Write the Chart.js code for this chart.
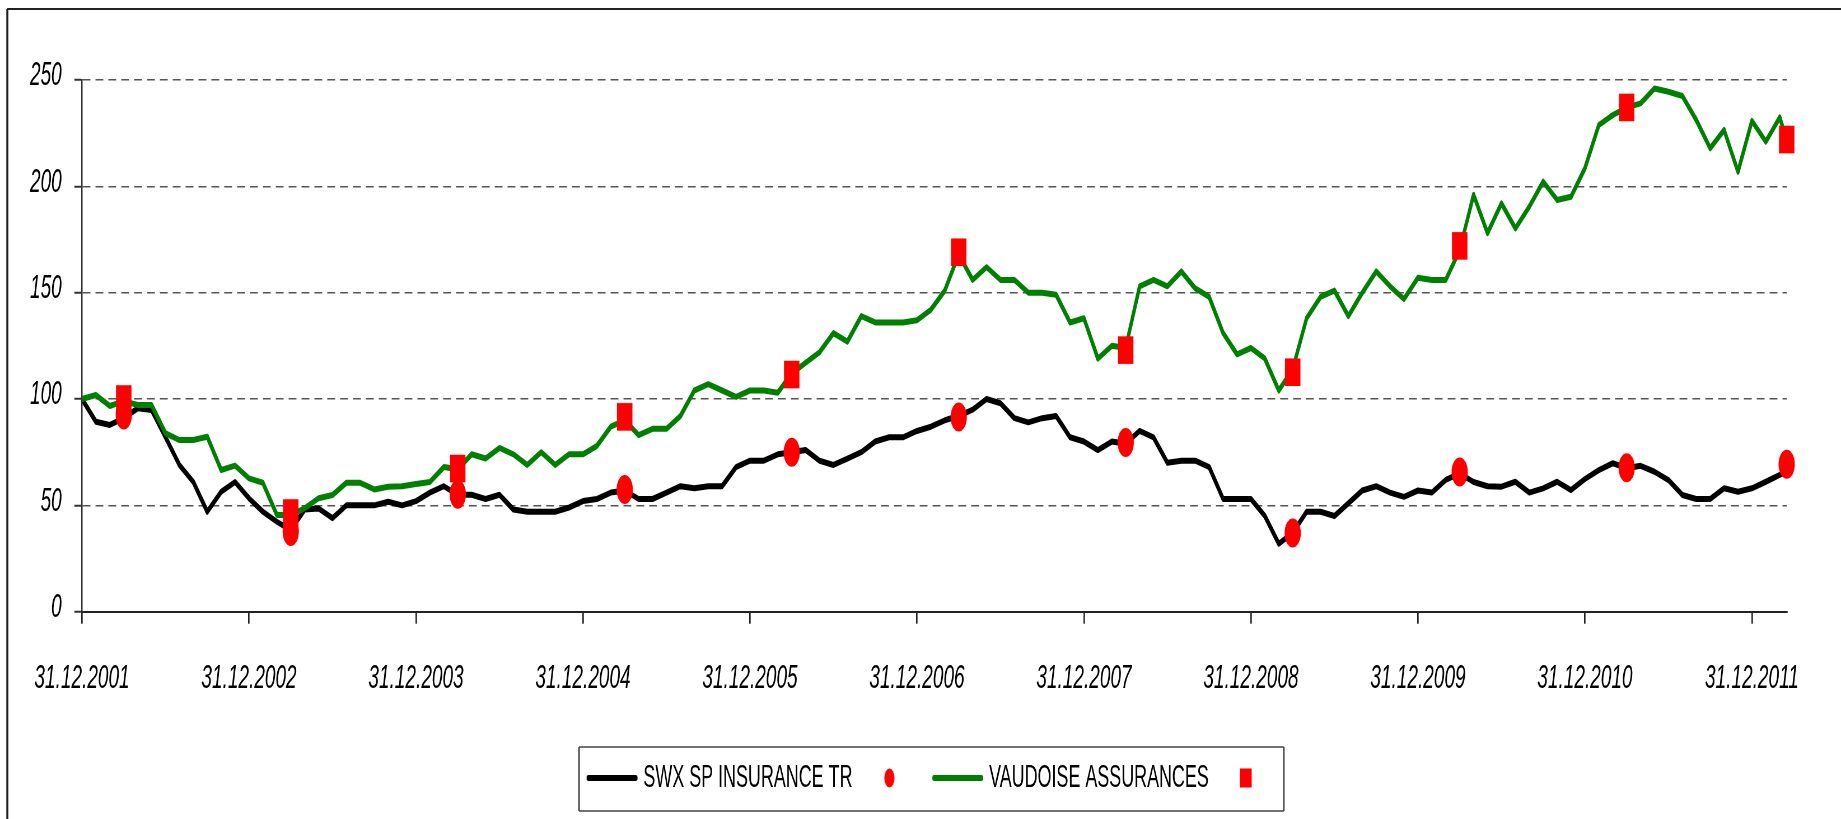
<!DOCTYPE html>
<html>
<head>
<meta charset="utf-8">
<script src="https://cdn.jsdelivr.net/npm/chart.js@4"></script>
<style>
html, body { margin: 0; padding: 0; background: #fff; overflow: hidden; }
/* the original chart is squeezed horizontally: draw wide, then squash */
#wrap { position: absolute; left: 0; top: 0; width: 3288px; height: 819px; transform: scaleX(0.559915); transform-origin: 0 0; }
</style>
</head>
<body>
<div id="wrap"><canvas id="myChart"></canvas></div>
<script>
(function() {
const SQUASH = 1841 / 3288;
const px = v => v / SQUASH;   // final horizontal pixels -> drawing pixels

const yearLabels = ['31.12.2001', '31.12.2002', '31.12.2003', '31.12.2004', '31.12.2005', '31.12.2006',
    '31.12.2007', '31.12.2008', '31.12.2009', '31.12.2010', '31.12.2011'];

// month-end values from 31.12.2001, the last one is mid-month
const lastMonth = 122.5;

const swxValues = [
    100, 89.3, 87.8, 91, 95.6, 94.8, 82, 69, 61, 47, 56.4, 61,
    53.3, 47, 42.3, 38.4, 48, 48.5, 44, 50, 50, 50, 51.7, 50,
    52, 56, 59, 55, 55, 53, 55, 48, 47, 47, 47, 49,
    52, 53, 56, 57, 53, 53, 56, 59, 58, 59, 59, 68,
    71, 71, 74, 75, 76, 71, 69, 72, 75, 80, 82, 82,
    85, 87, 90, 92, 95, 100, 98, 91, 89, 91, 92, 82,
    80, 76, 80, 79, 85, 82, 70, 71, 71, 68, 53, 53,
    53, 45, 32, 37, 47, 47, 45, 51, 57, 59, 56, 54,
    57, 56, 62, 65, 61, 59, 58.8, 61.1, 56, 58, 61.1, 57.2,
    62.4, 66.6, 69.8, 67.5, 68.6, 65.8, 61.9, 54.9, 53, 53, 58, 56.4,
    58, 61.1, 64.3, 66
];

const vaudoiseValues = [
    100, 101.9, 96.7, 99, 97.2, 97.2, 83.9, 80.7, 80.7, 82.3, 66.6, 68.7,
    62.7, 60.6, 45.5, 45.5, 48.6, 53.3, 54.9, 60.6, 60.6, 57.5, 58.8, 59,
    60, 61, 68, 67, 74, 72, 77, 74, 69, 75, 69, 74,
    74, 78, 87, 90, 83, 86, 86, 92, 104, 107, 104, 101,
    104, 104, 103, 112, 117, 122, 131, 127, 139, 136, 136, 136,
    137, 142, 151, 168, 156, 162, 156, 156, 150, 150, 149, 136,
    138, 119, 125, 124, 153, 156, 153, 160, 152, 148, 131, 121,
    124, 119, 104, 114, 138, 148, 151, 139, 150, 160, 153, 147,
    157, 156, 156, 170, 196, 178, 192, 180.2, 190.4, 202.2, 193.6, 195.1,
    208.5, 228.8, 233.5, 237, 239, 246, 244.5, 242.5, 231.2, 217.9, 226.5, 206.9,
    230.8, 221, 232.4, 222
];

const markerMonths = [3, 15, 27, 39, 51, 63, 75, 87, 99, 111, 122.5];
const swxMarkers = [92.5, 37.7, 55.2, 57.4, 75, 91.6, 79.5, 37, 65.7, 67.7, 69.3];
const vaudoiseMarkers = [100, 46.4, 67.3, 91.6, 111.5, 169, 123, 112.6, 172, 237.1, 222];

const RED = '#ff0000';
const GREEN = '#008000';

function toPoints(values) {
    return values.map((v, i) => ({x: i < values.length - 1 ? i : lastMonth, y: v}));
}

function markerPoints(values) {
    return values.map((v, i) => ({x: markerMonths[i], y: v}));
}

function makeIcon(w, h, draw) {
    const c = document.createElement('canvas');
    c.width = w;
    c.height = h;
    draw(c.getContext('2d'));
    return c;
}

const lineIcon = color => makeIcon(93, 10, ctx => {
    ctx.strokeStyle = color;
    ctx.lineWidth = 6;
    ctx.lineCap = 'round';
    ctx.beginPath();
    ctx.moveTo(4, 5);
    ctx.lineTo(89, 5);
    ctx.stroke();
});
const dotIcon = makeIcon(20, 20, ctx => {
    ctx.fillStyle = RED;
    ctx.beginPath();
    ctx.ellipse(10, 10, 9, 9.5, 0, 0, 2 * Math.PI);
    ctx.fill();
});
const boxIcon = makeIcon(22, 20, ctx => {
    ctx.fillStyle = RED;
    ctx.fillRect(0.5, 0.5, 21, 19);
});

const framePlugin = {
    id: 'frame',
    afterDraw(chart) {
        const ctx = chart.ctx;
        ctx.save();
        ctx.strokeStyle = '#222';
        ctx.lineWidth = 2;
        ctx.beginPath();
        ctx.moveTo(px(7.3), 9);
        ctx.lineTo(chart.width, 9);
        ctx.stroke();
        ctx.lineWidth = px(2);
        ctx.beginPath();
        ctx.moveTo(px(7.3), 9);
        ctx.lineTo(px(7.3), chart.height);
        ctx.stroke();

        // box round the legend
        const hb = chart.legend.legendHitBoxes;
        const first = hb[0], last = hb[hb.length - 1];
        const cy = first.top + first.height / 2;
        const left = first.left - 19, right = last.left + 40 + 68;
        const top = cy - 31, bottom = cy + 33;
        ctx.strokeStyle = '#444';
        ctx.lineWidth = 1.6;
        ctx.beginPath();
        ctx.moveTo(left, top); ctx.lineTo(right, top);
        ctx.moveTo(left, bottom); ctx.lineTo(right, bottom);
        ctx.stroke();
        ctx.lineWidth = px(1.6);
        ctx.beginPath();
        ctx.moveTo(left, top); ctx.lineTo(left, bottom);
        ctx.moveTo(right, top); ctx.lineTo(right, bottom);
        ctx.stroke();
        ctx.restore();
    }
};

const tickFont = {family: "'Liberation Sans', Arial, sans-serif", size: 34, style: 'italic'};
const padLeft = 46;
const legendPadding = 26;

const myChart = new Chart(document.getElementById('myChart'), {
    type: 'line',
    data: {
        datasets: [{
            label: 'SWX SP INSURANCE TR',
            data: toPoints(swxValues),
            borderColor: '#000',
            borderWidth: 6,
            pointRadius: 0,
            borderJoinStyle: 'round',
            tension: 0,
            order: 4
        }, {
            label: 'SWX markers',
            data: markerPoints(swxMarkers),
            showLine: false,
            pointStyle: 'circle',
            pointRadius: 14.5,
            pointBackgroundColor: RED,
            pointBorderWidth: 0,
            clip: false,
            order: 2
        }, {
            label: 'VAUDOISE ASSURANCES',
            data: toPoints(vaudoiseValues),
            borderColor: GREEN,
            borderWidth: 6,
            pointRadius: 0,
            borderJoinStyle: 'round',
            tension: 0,
            order: 3
        }, {
            label: 'VAUDOISE markers',
            data: markerPoints(vaudoiseMarkers),
            showLine: false,
            pointStyle: 'rect',
            pointRadius: 19.5,
            pointBackgroundColor: RED,
            pointBorderWidth: 0,
            clip: false,
            order: 1
        }]
    },
    options: {
        responsive: true,
        maintainAspectRatio: false,
        animation: false,
        events: [],
        devicePixelRatio: 1,
        layout: {
            padding: {left: padLeft, right: 0, top: 80, bottom: 15}
        },
        scales: {
            x: {
                type: 'linear',
                min: 0,
                max: lastMonth,
                afterBuildTicks: scale => {
                    scale.ticks = yearLabels.map((l, j) => ({value: j * 12}));
                },
                // plot bottom at y = 611.7
                afterFit: scale => { scale.height = 819 - 15 - (42 + legendPadding) - 611.7; },
                ticks: {
                    callback: (value, index) => yearLabels[index],
                    font: tickFont,
                    color: '#000',
                    padding: 34.4,
                    maxRotation: 0,
                    autoSkip: false
                },
                grid: {
                    drawOnChartArea: false,
                    drawTicks: true,
                    tickLength: 12,
                    color: '#222',
                    lineWidth: px(1.5)
                },
                border: {display: true, color: '#222', width: 2}
            },
            y: {
                min: 0,
                max: 250,
                afterFit: scale => { scale.width = px(82) - padLeft; },
                ticks: {
                    stepSize: 50,
                    font: tickFont,
                    color: '#000',
                    padding: 22.5,
                    labelOffset: -4
                },
                grid: {
                    color: '#555',
                    lineWidth: 1.5,
                    tickLength: 13.7,
                    tickColor: '#333',
                    tickWidth: 2
                },
                border: {display: true, color: '#333', width: px(1.4), dash: [14, 9]}
            },
            // empty strip on the right so the plot ends where the original does
            spacer: {
                type: 'linear',
                position: 'right',
                display: true,
                afterFit: scale => { scale.width = 3288 - px(1786.7); },
                ticks: {display: false},
                grid: {display: false, drawTicks: false},
                border: {display: false}
            }
        },
        plugins: {
            tooltip: {enabled: false},
            legend: {
                position: 'bottom',
                labels: {
                    usePointStyle: true,
                    pointStyleWidth: 80,
                    padding: legendPadding,
                    color: '#000',
                    font: {family: "'Liberation Sans', Arial, sans-serif", size: 32},
                    generateLabels: () => [
                        {text: 'SWX SP INSURANCE TR', pointStyle: lineIcon('#000'), fillStyle: '#000', strokeStyle: '#000', lineWidth: 0, hidden: false, datasetIndex: 0},
                        {text: '', pointStyle: dotIcon, fillStyle: RED, strokeStyle: RED, lineWidth: 0, hidden: false, datasetIndex: 1},
                        {text: 'VAUDOISE ASSURANCES', pointStyle: lineIcon(GREEN), fillStyle: GREEN, strokeStyle: GREEN, lineWidth: 0, hidden: false, datasetIndex: 2},
                        {text: '', pointStyle: boxIcon, fillStyle: RED, strokeStyle: RED, lineWidth: 0, hidden: false, datasetIndex: 3}
                    ]
                }
            }
        }
    },
    plugins: [framePlugin]
});
})();
</script>
</body>
</html>
